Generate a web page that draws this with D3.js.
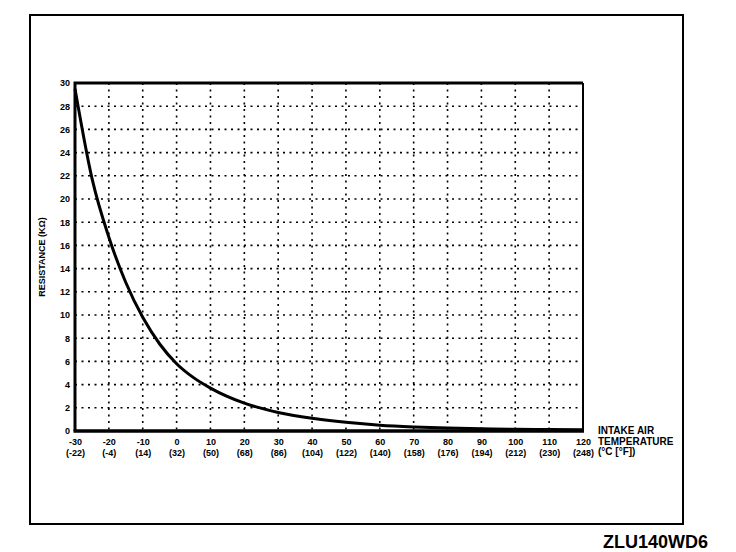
<!DOCTYPE html>
<html><head><meta charset="utf-8">
<script src="https://cdn.jsdelivr.net/npm/d3@7/dist/d3.min.js"></script>
<style>body{margin:0;background:#fff}svg{display:block}text{font-family:"Liberation Sans",Arial,sans-serif;font-weight:bold;fill:#000}</style>
</head><body>
<svg id="c" width="736" height="552"></svg>
<script>
const tempC = [-30,-25,-20,-15,-10,-5,0,5,10,20,30,40,50,60,70,80,90,100,110,120];
const resistance = [29.5,21.8,16.7,12.8,9.8,7.5,5.8,4.6,3.7,2.4,1.6,1.1,0.75,0.5,0.35,0.25,0.2,0.15,0.12,0.1];
const xTicksC = [-30,-20,-10,0,10,20,30,40,50,60,70,80,90,100,110,120];
const xTicksF = ["(-22)","(-4)","(14)","(32)","(50)","(68)","(86)","(104)","(122)","(140)","(158)","(176)","(194)","(212)","(230)","(248)"];
const yTicks = [0,2,4,6,8,10,12,14,16,18,20,22,24,26,28,30];
const yTitle = "RESISTANCE (KΩ)";
const xTitle = ["INTAKE AIR","TEMPERATURE","(°C [°F])"];
const code = "ZLU140WD6";

const svg = d3.select("#c");
const x = d3.scaleLinear().domain([-30,120]).range([75,583]);
const y = d3.scaleLinear().domain([0,30]).range([431,83]);

// outer frame
svg.append("rect").attr("x",30).attr("y",15).attr("width",653).attr("height",509)
  .attr("fill","none").attr("stroke","#000").attr("stroke-width",2);

// grid
const g = svg.append("g");
g.selectAll(".vg").data(xTicksC.filter(d=>d>-30 && d<120)).join("line")
  .attr("x1",d=>x(d)).attr("x2",d=>x(d)).attr("y1",y(30)).attr("y2",y(0))
  .attr("stroke","#000").attr("stroke-width",1.6).attr("stroke-dasharray","2,4.5");
g.selectAll(".hg").data(yTicks.filter(d=>d>0 && d<30)).join("line")
  .attr("x1",x(-30)).attr("x2",x(120)).attr("y1",d=>y(d)).attr("y2",d=>y(d))
  .attr("stroke","#000").attr("stroke-width",1.6).attr("stroke-dasharray","2,4.5");

// plot border
svg.append("path").attr("d",`M${x(-30)},${y(0)}V${y(30)}H${x(120)}`).attr("fill","none").attr("stroke","#000").attr("stroke-width",3);
svg.append("line").attr("x1",x(120)).attr("x2",x(120)).attr("y1",y(30)).attr("y2",y(0)).attr("stroke","#000").attr("stroke-width",2);
svg.append("line").attr("x1",x(-30)-1.5).attr("x2",x(120)+1).attr("y1",y(0)).attr("y2",y(0)).attr("stroke","#000").attr("stroke-width",3.5);

// y axis labels
const ya = d3.axisLeft(y).tickValues(yTicks).tickSize(0).tickPadding(4);
const yg = svg.append("g").attr("transform",`translate(${x(-30)-1},0)`).call(ya);
yg.select(".domain").remove();
yg.selectAll("text").attr("font-size",9).attr("font-family","'Liberation Sans',Arial,sans-serif").attr("font-weight","bold");

// x axis labels (two lines)
const xa = d3.axisBottom(x).tickValues(xTicksC).tickSize(0).tickPadding(8).tickFormat(d=>d);
const xg = svg.append("g").attr("transform",`translate(0,${y(0)})`).call(xa);
xg.select(".domain").remove();
xg.selectAll(".tick text").attr("font-size",9).attr("font-family","'Liberation Sans',Arial,sans-serif").attr("font-weight","bold");
xg.selectAll(".tick").append("text").attr("y",19).attr("dy","0.71em").attr("text-anchor","middle")
  .attr("font-size",9).attr("font-family","'Liberation Sans',Arial,sans-serif").attr("font-weight","bold").attr("fill","#000")
  .text((d,i)=>xTicksF[i]);

// curve
const line = d3.line().x((d,i)=>x(tempC[i])).y(d=>y(d)).curve(d3.curveMonotoneX);
svg.append("path").datum(resistance).attr("d",line).attr("fill","none").attr("stroke","#000").attr("stroke-width",3);

// titles
svg.append("text").attr("transform",`translate(45,257) rotate(-90)`).attr("text-anchor","middle")
  .attr("font-size",9).text(yTitle);
svg.append("g").selectAll("text").data(xTitle).join("text")
  .attr("x",598).attr("y",(d,i)=>434+i*10.5).attr("font-size",10).text(d=>d);
svg.append("text").attr("x",603).attr("y",548).attr("font-size",18).text(code);
</script>
</body></html>
